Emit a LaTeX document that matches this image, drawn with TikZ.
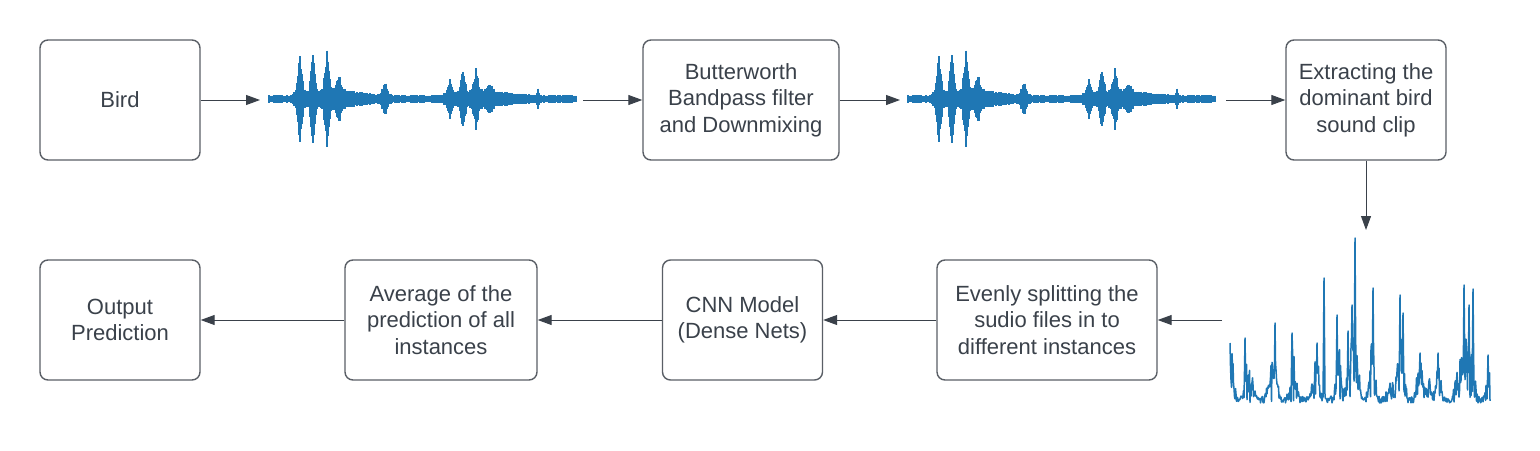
\documentclass[tikz,border=0pt]{standalone}
\usepackage{fontspec}
\setmainfont{Liberation Sans}
\usetikzlibrary{arrows.meta}
\definecolor{txt}{HTML}{3A414A}
\definecolor{edge}{HTML}{5A5F66}
\definecolor{wave}{HTML}{1F77B4}
\begin{document}
\begin{tikzpicture}[x=0.5pt,y=-0.5pt,
  declare function={
    tri(\ta,\tb,\tc)=max(0,1-abs(\ta-\tb)/\tc);
    env(\ua)=4 + 31*tri(\ua,31,4) + 10*tri(\ua,31,9) + 33*tri(\ua,44,4) + 10*tri(\ua,44,9)
      + 33*tri(\ua,58,4) + 10*tri(\ua,58,9) + 13*tri(\ua,70,4) + 5*tri(\ua,70,9) + 5*tri(\ua,78,38)
      + 10*tri(\ua,116,4) + 5*tri(\ua,116,8) + 11*tri(\ua,181,4) + 5*tri(\ua,181,8)
      + 19*tri(\ua,194,4) + 6*tri(\ua,194,8) + 17*tri(\ua,207,4) + 6*tri(\ua,207,8)
      + 7*tri(\ua,221,6) + 5*tri(\ua,218,48) + 7*tri(\ua,269,2);
    broad(\ua)=70*tri(\ua,1232,5) + 40*tri(\ua,1248,9) + 55*tri(\ua,1272,8) + 55*tri(\ua,1293,7)
      + 50*tri(\ua,1316,7) + 60*tri(\ua,1339,6) + 90*tri(\ua,1353,9) + 60*tri(\ua,1372,6)
      + 35*tri(\ua,1390,5) + 70*tri(\ua,1401,7) + 45*tri(\ua,1420,6) + 20*tri(\ua,1429,5)
      + 45*tri(\ua,1438,5) + 90*tri(\ua,1465,13) + 50*tri(\ua,1488,4);
    spk(\ua)=60*tri(\ua,1230,1) + 65*tri(\ua,1245,1) + 80*tri(\ua,1275,1) + 70*tri(\ua,1292,1)
      + 60*tri(\ua,1317,1) + 125*tri(\ua,1324,1) + 88*tri(\ua,1337,1) + 72*tri(\ua,1348,1)
      + 98*tri(\ua,1352,1) + 165*tri(\ua,1355,1) + 115*tri(\ua,1373,1) + 108*tri(\ua,1400,1)
      + 90*tri(\ua,1403,1) + 50*tri(\ua,1420,1) + 50*tri(\ua,1438,1) + 118*tri(\ua,1464,1)
      + 98*tri(\ua,1469,1) + 114*tri(\ua,1473,1) + 48*tri(\ua,1488,1);
  },
  box/.style={draw=edge, line width=0.7pt, rounded corners=4pt, minimum width=#1,
    minimum height=60pt, align=center, text=txt, inner sep=0pt,
    font=\fontsize{11}{13.25}\selectfont},
  conn/.style={draw=txt, line width=0.5pt, -{Triangle[length=7pt,width=5pt]}},
  wavecol/.style={draw=wave, line width=0.6pt}
]
\useasboundingbox (0,0) rectangle (1540,450);
\fill[white] (0,0) rectangle (1540,450);

% boxes
\node[box=80pt] (bird) at (120,100) {Bird};
\node[box=98pt] (butter) at (741,100) {Butterworth\\Bandpass filter\\and Downmixing};
\node[box=80pt] (extract) at (1366,100) {Extracting the\\dominant bird\\sound clip};
\node[box=110pt] (evenly) at (1047,320) {Evenly splitting the\\sudio files in to\\different instances};
\node[box=80pt] (cnn) at (742.5,320) {CNN Model\\(Dense Nets)};
\node[box=96pt] (avg) at (441,320) {Average of the\\prediction of all\\instances};
\node[box=80pt] (out) at (120,320) {Output\\Prediction};

% waveforms
\pgfmathsetseed{7}
\foreach \u in {0,...,307}{
  \pgfmathsetmacro\a{env(\u)*(0.75+0.25*rnd)}
  \draw[wavecol] (269+\u,99-\a) -- (269+\u,99+\a);
}
\pgfmathsetseed{7}
\foreach \u in {0,...,307}{
  \pgfmathsetmacro\a{env(\u)*(0.75+0.25*rnd)}
  \draw[wavecol] (908+\u,99-\a) -- (908+\u,99+\a);
}
% spectrum-like plot
\pgfmathsetseed{11}
\draw[draw=wave, line width=0.75pt, line join=round]
  (1230,343) \foreach \i in {1230.5,1231,...,1490}{ -- (\i,{403-max(7*rnd+rnd*broad(\i),spk(\i))}) };

% connector end points
\coordinate (w1in) at (260,100);
\coordinate (w1out) at (583,100);
\coordinate (w2in) at (900,100);
\coordinate (w2out) at (1226,100);
\coordinate (specin) at (1366,230);
\coordinate (specout) at (1222,320);

% connectors
\draw[conn] (bird) -- (w1in);
\draw[conn] (w1out) -- (butter);
\draw[conn] (butter) -- (w2in);
\draw[conn] (w2out) -- (extract);
\draw[conn] (extract) -- (specin);
\draw[conn] (specout) -- (evenly);
\draw[conn] (evenly) -- (cnn);
\draw[conn] (cnn) -- (avg);
\draw[conn] (avg) -- (out);
\end{tikzpicture}
\end{document}
